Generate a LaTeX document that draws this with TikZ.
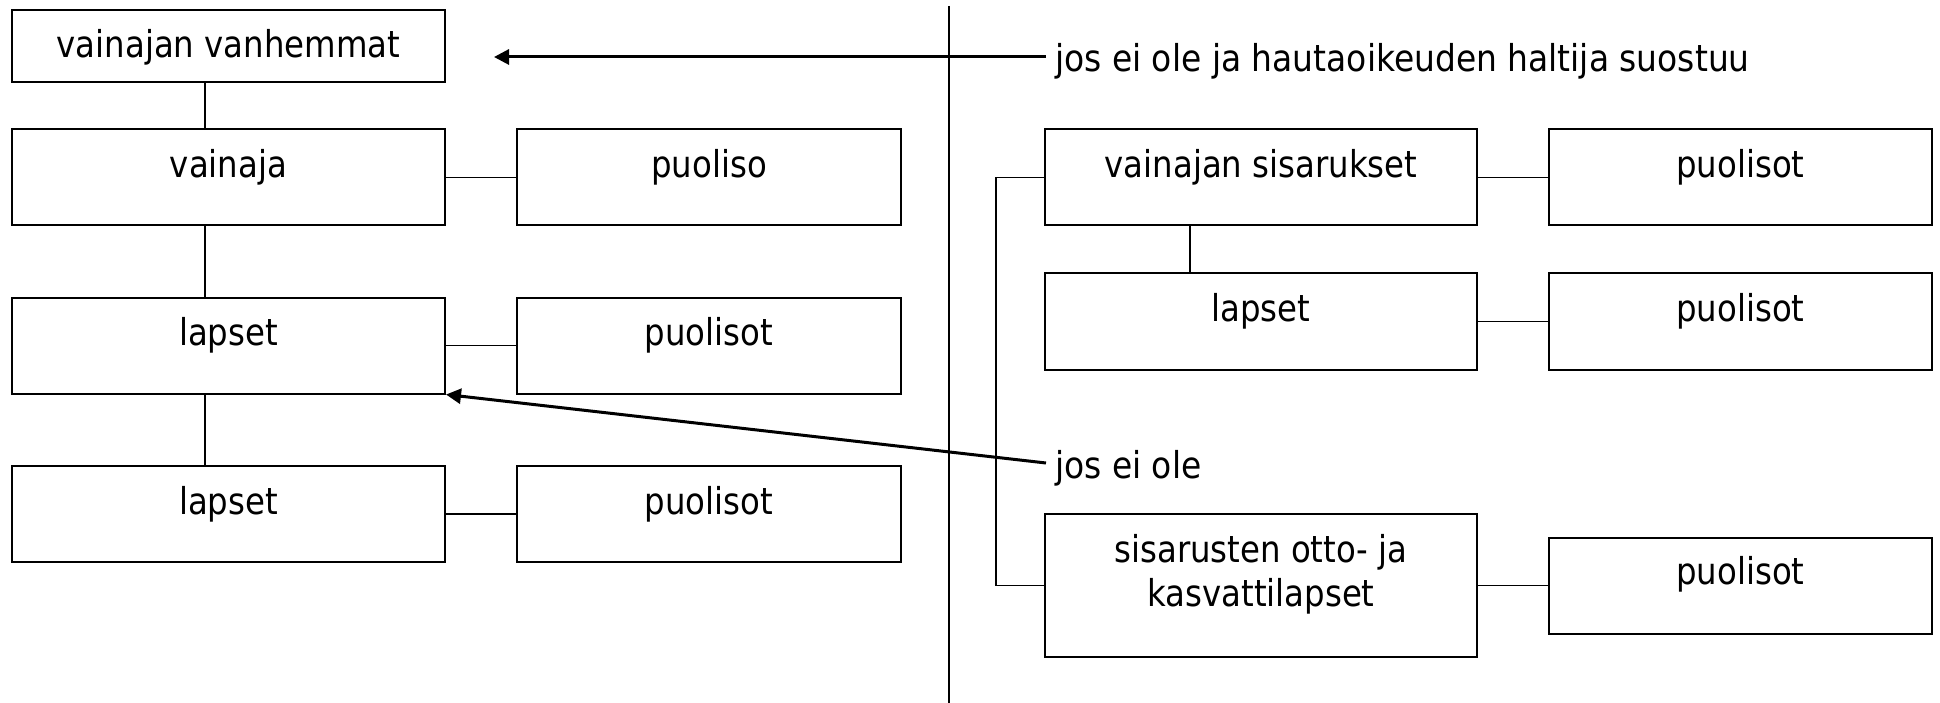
\documentclass[tikz,border=0pt]{standalone}
\usepackage{fontspec}
\setmainfont{DejaVu Sans}[FakeStretch=0.875]
\usetikzlibrary{arrows.meta}
\begin{document}
\begin{tikzpicture}[x=1pt,y=-1pt,
  box/.style={draw, line width=2pt, rectangle, inner sep=0pt, minimum height=96pt},
  wide/.style={minimum width=433pt},
  narrow/.style={minimum width=384pt},
  txt/.style={anchor=base, inner sep=0pt, font=\fontsize{37}{44}\selectfont},
  lbl/.style={anchor=base west, inner xsep=9pt, inner ysep=3pt, text height=30pt, text depth=0pt, font=\fontsize{37}{44}\selectfont\addfontfeatures{FakeStretch=0.89}},
  link/.style={line width=1.9pt},
  arrow/.style={line width=3pt, -{Triangle[length=15pt,width=15pt]}}
]
\useasboundingbox (0,0) rectangle (1940,703);
\fill[white] (0,0) rectangle (1940,703);

% left column
\node[box, wide, minimum height=72pt] (vanh) at (228.5,46) {};
\node[txt] (tvanh) at ([yshift=-49pt]vanh.north) {vainajan vanhemmat};
\node[box, wide] (vainaja) at (228.5,177.5) {};
\node[txt] (tvainaja) at ([yshift=-49pt]vainaja.north) {vainaja};
\node[box, wide] (lapsetA) at (228.5,345.5) {};
\node[txt] (tlapsetA) at ([yshift=-49pt]lapsetA.north) {lapset};
\node[box, wide] (lapsetB) at (228.5,514) {};
\node[txt] (tlapsetB) at ([yshift=-49pt]lapsetB.north) {lapset};

\node[box, narrow] (puoliso) at (709,177.5) {};
\node[txt] (tpuoliso) at ([yshift=-49pt]puoliso.north) {puoliso};
\node[box, narrow] (puolA) at (709,345.5) {};
\node[txt] (tpuolA) at ([yshift=-49pt]puolA.north) {puolisot};
\node[box, narrow] (puolB) at (709,514) {};
\node[txt] (tpuolB) at ([yshift=-49pt]puolB.north) {puolisot};

\draw[link] ([xshift=-23.5pt]vanh.south) -- ([xshift=-23.5pt]vainaja.north);
\draw[link] ([xshift=-23.5pt]vainaja.south) -- ([xshift=-23.5pt]lapsetA.north);
\draw[link] ([xshift=-23.5pt]lapsetA.south) -- ([xshift=-23.5pt]lapsetB.north);
\draw[link] (vainaja.east) -- (puoliso.west);
\draw[link] (lapsetA.east) -- (puolA.west);
\draw[link] (lapsetB.east) -- (puolB.west);

% divider
\coordinate (dtop) at (949,6);
\coordinate (dbot) at (949,703);
\draw[line width=1.6pt] (dtop) -- (dbot);

% right column
\node[box, minimum width=432pt] (sis) at (1261,177.5) {};
\node[txt] (tsis) at ([yshift=-49pt]sis.north) {vainajan sisarukset};
\node[box, minimum width=432pt] (rlapset) at (1261,321.5) {};
\node[txt] (trlapset) at ([yshift=-49pt]rlapset.north) {lapset};
\node[box, minimum width=432pt, minimum height=143pt] (otto) at (1261,585.5) {};
\node[txt] (totto) at ([yshift=-49pt]otto.north) {\begin{tabular}[t]{@{}c@{}}sisarusten otto- ja\\kasvattilapset\end{tabular}};

\node[box, minimum width=383pt] (rpA) at (1740.5,177.5) {};
\node[txt] (trpA) at ([yshift=-49pt]rpA.north) {puolisot};
\node[box, minimum width=383pt] (rpB) at (1740.5,321.5) {};
\node[txt] (trpB) at ([yshift=-49pt]rpB.north) {puolisot};
\node[box, minimum width=383pt] (rpC) at (1740.5,585.5) {};
\node[txt] (trpC) at ([yshift=-48pt]rpC.north) {puolisot};

\draw[link] (sis.east) -- (rpA.west);
\draw[link] (rlapset.east) -- (rpB.west);
\draw[link] (otto.east) -- (rpC.west);
\draw[link] ([xshift=-71pt]sis.south) -- ([xshift=-71pt]rlapset.north);
\draw[link] (sis.west) -- ++(-48,0) |- (otto.west);

% labels and arrows
\node[lbl] (lbl1) at (1046,72) {jos ei ole ja hautaoikeuden haltija suostuu};
\node[lbl] (lbl2) at (1046,478) {jos ei ole};
\coordinate (a1end) at (494,57);
\draw[arrow] (lbl1.west) -- (a1end);
\draw[arrow] (lbl2.west) -- (lapsetA.south east);
\end{tikzpicture}
\end{document}
